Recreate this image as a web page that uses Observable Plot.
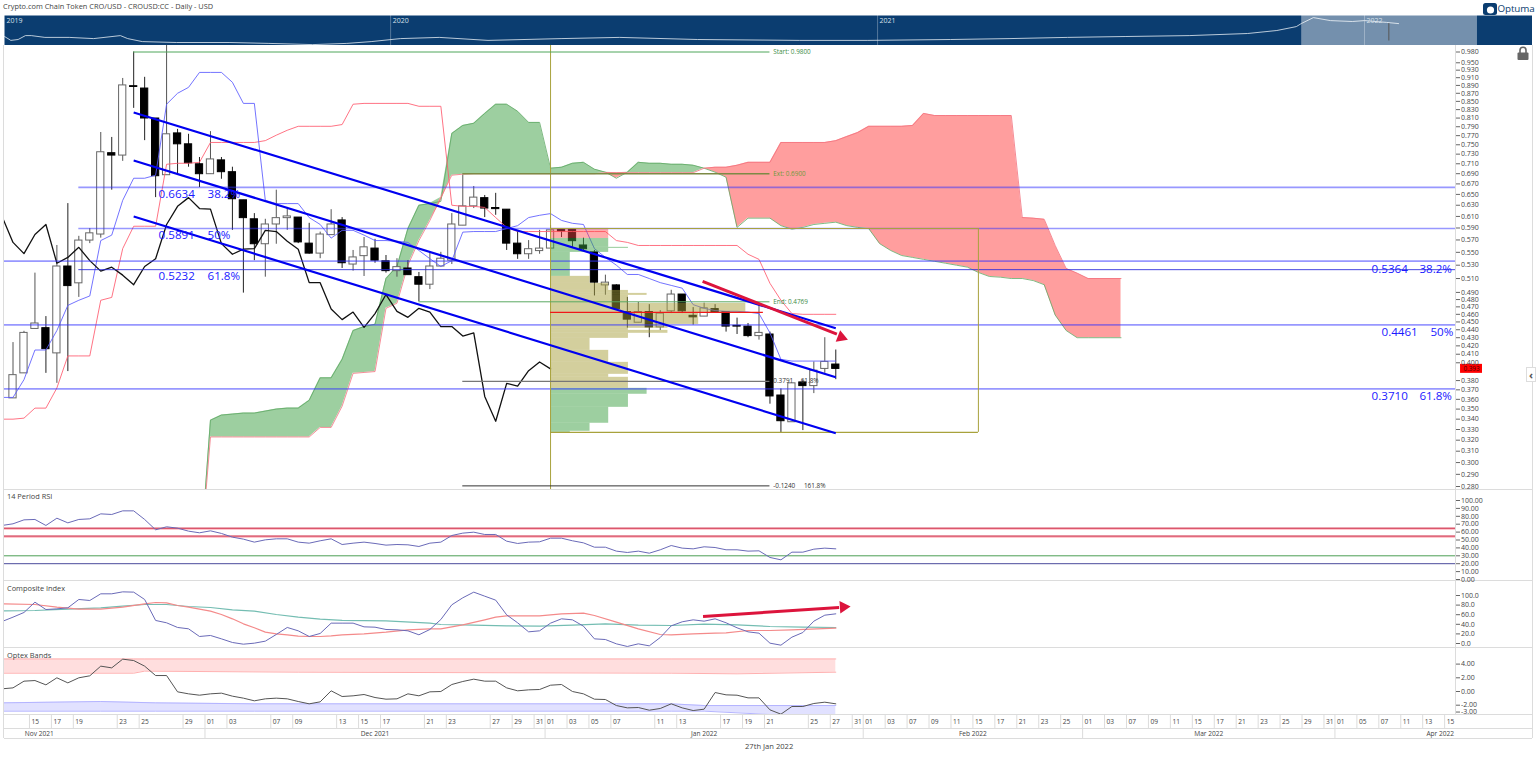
<!DOCTYPE html>
<html>
<head>
<meta charset="utf-8">
<title>Crypto.com Chain Token CRO/USD</title>
<script src="https://cdn.jsdelivr.net/npm/d3@7"></script>
<script src="https://cdn.jsdelivr.net/npm/@observablehq/plot@0.6"></script>
<style>
html,body{margin:0;padding:0;background:#fff;}
#page{position:relative;width:1536px;height:759px;overflow:hidden;font-family:"Open Sans",sans-serif;color:#444;}
#page svg{position:absolute;display:block;background:transparent;}
.t{position:absolute;white-space:nowrap;}
.ln{position:absolute;background:#dcdcdc;}
</style>
</head>
<body>
<div id="page"></div>
<script>
// ---------- daily candles, 13 Nov 2021 to 27 Jan 2022 ----------
const opens=[.361,.388,.441,.442,.411,.528,.503,.569,.579,.732,.727,.888,.882,.809,.687,.775,.751,.709,.689,.717,.693,.639,.605,.563,.596,.607,.608,.564,.548,.578,.603,.531,.544,.556,.536,.521,.525,.512,.501,.528,.537,.594,.628,.643,.625,.622,.564,.547,.552,.556,.588,.588,.561,.550,.500,.500,.463,.449,.463,.443,.464,.487,.458,.457,.467,.463,.445,.444,.432,.434,.364,.337,.378,.374,.393,.398];
const highs=[.424,.438,.518,.457,.561,.633,.576,.589,.777,.766,.908,.980,.911,.809,1.0,.784,.773,.723,.779,.723,.703,.639,.615,.605,.658,.626,.608,.598,.583,.622,.608,.553,.574,.571,.545,.540,.537,.519,.550,.550,.615,.687,.665,.648,.652,.622,.584,.569,.586,.594,.589,.588,.573,.553,.515,.501,.483,.476,.473,.465,.493,.487,.469,.475,.473,.463,.455,.448,.472,.437,.371,.377,.380,.401,.430,.415];
const lows=[.361,.388,.441,.388,.377,.390,.483,.564,.573,.658,.715,.833,.759,.644,.687,.687,.703,.663,.689,.679,.586,.489,.537,.512,.563,.586,.564,.547,.540,.578,.525,.521,.513,.533,.518,.512,.515,.477,.494,.528,.531,.594,.624,.608,.612,.553,.539,.539,.547,.556,.574,.558,.553,.485,.486,.467,.442,.449,.430,.439,.461,.461,.446,.457,.463,.437,.434,.430,.427,.355,.327,.337,.329,.366,.388,.381];
const closes=[.386,.436,.448,.416,.528,.499,.569,.581,.734,.727,.890,.886,.809,.685,.773,.751,.711,.689,.719,.693,.641,.607,.563,.596,.607,.610,.566,.548,.579,.596,.533,.542,.558,.537,.521,.527,.515,.501,.528,.540,.596,.628,.644,.624,.623,.564,.547,.555,.556,.586,.584,.568,.555,.504,.504,.467,.453,.463,.443,.461,.487,.464,.456,.468,.463,.444,.444,.432,.436,.363,.338,.377,.374,.391,.401,.393];

// ---------- Ichimoku ----------
const tenkan=[.362,.362,.381,.415,.415,.439,.472,.479,.485,.569,.578,.639,.681,.681,.687,.843,.870,.885,.924,.924,.924,.898,.845,.845,.639,.633,.633,.633,.608,.596,.573,.586,.586,.578,.569,.569,.568,.566,.553,.540,.528,.537,.583,.584,.584,.584,.589,.594,.608,.612,.615,.603,.598,.596,.556,.542,.530,.516,.516,.510,.504,.500,.496,.473,.468,.465,.464,.464,.463,.461,.436,.404,.402,.402,.402,.402,.402];
const kijun=[.340,.340,.341,.351,.351,.372,.408,.408,.408,.479,.483,.556,.593,.593,.593,.709,.711,.711,.713,.755,.755,.755,.755,.755,.759,.771,.782,.791,.791,.791,.791,.795,.843,.845,.845,.845,.845,.845,.838,.838,.838,.630,.628,.628,.626,.608,.591,.584,.584,.584,.584,.584,.584,.584,.584,.584,.569,.566,.561,.561,.561,.561,.561,.561,.561,.561,.561,.561,.547,.539,.503,.479,.461,.460,.460,.460,.460];
const spanA=[.22,.339,.344,.345,.346,.346,.348,.350,.351,.351,.359,.383,.383,.404,.439,.444,.447,.510,.528,.589,.630,.633,.637,.775,.793,.798,.821,.843,.843,.826,.800,.800,.701,.703,.711,.713,.699,.693,.681,.693,.713,.711,.711,.709,.709,.707,.701,.693,.683,.591,.607,.607,.607,.594,.588,.591,.596,.598,.600,.594,.591,.589,.564,.553,.545,.542,.539,.536,.533,.530,.527,.519,.513,.512,.510,.510,.507,.501,.459,.439,.430,.430,.430,.430,.430];
const spanB=[.22,.323,.323,.323,.323,.323,.323,.323,.323,.323,.323,.332,.332,.353,.388,.389,.390,.468,.475,.530,.569,.603,.644,.687,.689,.690,.690,.690,.690,.690,.690,.690,.690,.690,.690,.690,.690,.692,.692,.692,.692,.692,.692,.692,.692,.692,.701,.703,.703,.707,.713,.713,.713,.755,.755,.755,.755,.755,.759,.768,.777,.791,.791,.791,.791,.793,.821,.816,.816,.816,.816,.816,.816,.816,.816,.608,.607,.605,.561,.525,.518,.510,.510,.510,.510];

// ---------- volume profile ----------
const profileTop=[.5893,.5725,.5580,.5563,.5499,.5132,.5029,.4928,.4886,.4858,.4747,.4626,.4468,.4418,.4392,.4355,.4292,.4146,.4005,.3869,.3836,.3716,.3653,.3518,.3360,.3283];
const profileBottom=[.5725,.5580,.5563,.5499,.5132,.5029,.4928,.4886,.4858,.4747,.4626,.4468,.4418,.4392,.4355,.4292,.4146,.4005,.3869,.3836,.3716,.3653,.3518,.3360,.3283,.3273];
const profileVolume=[5.3,5.3,7.1,5.3,1.8,3.6,5.3,7.1,8.8,7.1,17.8,13.5,10.7,7.1,10.7,7.1,3.6,5.3,7.1,5.3,7.1,8.8,7.1,5.3,3.6,1.8];
const profileSide=["r","g","g","g","g","o","o","o","o","o","o","o","o","o","o","o","o","o","o","o","o","g","g","g","g","g"];

// ---------- retracement and channel levels ----------
const fibWide=[.5364,.4461,.3710];
const fibLeft=[.6634,.5891];
const fibThin=[.5232];
const channelStart=[.8232,.7168,.6100];
const channelEnd=[.4418,.3836,.3264];
const priceTicks=[.98,.95,.93,.91,.89,.87,.85,.83,.81,.79,.77,.75,.73,.71,.69,.67,.65,.63,.61,.59,.57,.55,.53,.51,.49,.48,.47,.46,.45,.44,.43,.42,.41,.40,.38,.37,.36,.35,.34,.33,.32,.31,.30,.29,.28];

// ---------- RSI ----------
const rsi=[68.4,70.5,75.5,76,68.4,77.6,71.7,76,76.8,83.1,82.3,86.9,86.9,76,62.9,66.7,65,61.2,59.1,61.6,58.3,53.6,51.1,47.3,50.2,51.5,51.5,47.3,46,49,51.5,44.3,46,47.3,45.6,43.5,44.3,43.9,41.8,46,47.3,55.7,58.7,59.9,57,57,48.5,45.6,47.3,47.7,52.3,52.3,49,46.4,40.9,40.9,35.9,34.2,35.9,33.3,37.6,43,39.7,38.8,41.4,40.5,37.6,37.6,35.9,36.3,27.9,24.9,34.6,34.6,38.4,39.7,38.8];
const rsiTicks=[100,90,80,70,60,50,40,30,20,10,0];

// ---------- Composite Index ----------
const composite=[45.8,54.9,64.6,86.1,70.8,72.2,74.3,91.7,89.6,103.5,103.5,107.6,107,91.7,48,43.1,33.4,30.6,14.6,16.7,9.7,2.1,-1.4,.7,4.9,18.8,33.4,26.4,14.6,20.9,42.4,42.4,42.4,34.7,34,29.2,28.5,26.4,18.1,29.2,50,80.6,95.2,107,98.6,90.3,59.7,43.1,24.3,26.4,42.4,51.4,49.3,36.1,9.7,8.3,-.7,-6.2,-.7,-4.9,12.5,36.8,45.2,49.3,46.5,51.4,43.1,32.7,24.3,21.5,.7,-3.5,13.2,22.9,46.5,59,61.8];
const fastBar=[-1,2,4,6,8,10,12,13,14,15,16,18,19,20,21,22,23,24,25,26,27,28,29,30,32,34,36,38,39,41,43,44,45,46,48,50,52,53,55,57,59,60,62,64,65,67,69,71,75];
const fastAvg=[82.7,81.3,75.7,71.5,71.5,75.7,82.7,85.4,84.7,79.2,75.7,67.4,60.4,51.4,41,32.7,23.6,20.2,18.1,15.3,14.6,14.6,16,18.1,20.2,23.6,28.5,30.6,30.6,38.9,49.3,54.9,57.7,57.7,57.7,61.8,63.2,58.3,44.5,30.6,18.8,18.1,20.2,21.5,22.2,27.1,27.1,28.5,32];
const slowBar=[-1,2,5,8,10,12,14,16,18,20,22,24,26,28,30,34,38,39,42,45,48,51,54,57,60,63,66,69,72,75];
const slowAvg=[68.1,68.8,71.5,74.3,77.8,81.3,81.3,77.1,75,70.2,67.4,60.4,54.9,50.7,48,47.2,42.4,39.6,38.2,36.8,36.1,38.2,41,38.2,37.5,40.3,38.9,35.4,34,33.3];
const compositeTicks=[100,80,60,40,20,0];

// ---------- Optex Bands ----------
const optex=[.39,.53,1.51,1.6,.97,2,1.26,2,2.29,3.7,3.45,4.72,4.52,3.7,2.33,2.33,-.05,-.34,-.54,-.34,-.24,-.68,-.97,-1.36,-1.07,-.97,-1.07,-1.46,-1.8,-1.51,.1,-.73,-.63,-.44,-.88,-1.12,-1.07,-.34,-.63,-.05,0,1.02,1.46,1.8,1.51,1.51,.53,.1,.24,.29,.92,1.02,0,-.34,-1.12,-1.17,-2.05,-2.39,-2.34,-2.73,-2.48,-1.8,-2.39,-2.78,-2.58,-.15,-.49,-.54,-.93,-.93,-2.68,-3.31,-2.19,-2.19,-1.75,-1.56,-1.8];
const upperBar=[-1,11,12,26,60,66,75];
const upperTop=[4.75,4.75,4.75,4.75,4.75,4.75,4.75];
const upperBase=[2.67,2.67,2.97,2.82,2.67,2.58,2.82];
const lowerBar=[-1,8,13,22,60,63,69,75];
const lowerTop=[-1.66,-1.46,-1.66,-1.8,-1.8,-2.05,-2.05,-2.05];
const lowerBase=[-2.87,-2.87,-2.87,-2.87,-2.87,-2.87,-3.36,-3.36];
const optexTicks=[4,2,0,-2,-3];

// ---------- time axis ----------
const dayBar=[2,4,6,10,12,16,18,20,24,26,30,32,34,38,40,44,46,48,49,51,53,55,59,61,65,67,69,73,75,77,78,80,82,84,86,88,90,92,94,96,98,100,102,104,106,108,110,112,114,116,118,120,121,123,125,127,129,131];
const dayText=["15","17","19","23","25","29","01","03","07","09","13","15","17","21","23","27","29","31","01","03","05","07","11","13","17","19","21","25","27","31","01","03","07","09","11","15","17","21","23","25","01","03","07","09","11","15","17","21","23","25","29","31","01","05","07","11","13","15"];
const monthText=["Nov 2021","Dec 2021","Jan 2022","Feb 2022","Mar 2022","Apr 2022"];
const monthBar=[2.4,33,63,87.5,109,130.1];
const monthEdge=[17.5,48.5,77.5,97.5,120.5];

// ---------- overview strip ----------
const overviewYear=[2019.207,2019.22,2019.235,2019.25,2019.262,2019.29,2019.34,2019.39,2019.445,2019.46,2019.49,2019.56,2019.67,2019.75,2019.84,2019.91,2019.96,2020.02,2020.1,2020.2,2020.35,2020.47,2020.63,2020.84,2020.98,2021.15,2021.27,2021.39,2021.51,2021.64,2021.76,2021.82,2021.86,2021.87,2021.895,2021.93,2021.975,2022.0,2022.045,2022.07];
const overviewValue=[30,17,20,33,33,27,27,23,33,23,13,10,10,7,3,7,13,23,27,17,23,27,20,17,17,20,23,27,30,33,40,50,63,73,93,83,80,83,77,73];
const overviewTicks=[2020,2021,2022];

// ---------- shared frame ----------
const page=document.getElementById("page");
const W=1536, ML=4, MR=81;
const barDomain=[-0.775,131.49];
const INK="#444";
function place(svg,top,left=0){svg.style.top=top+"px";svg.style.left=left+"px";page.appendChild(svg);}
function panel(top,height,yScale,marks){
  const svg=Plot.plot({width:W,height,marginLeft:ML,marginRight:MR,marginTop:0,marginBottom:0,
    x:{domain:barDomain,axis:null},y:yScale,marks,
    style:{fontFamily:"'Open Sans',sans-serif",fontSize:"7px",color:INK,background:"transparent",overflow:"visible"}});
  place(svg,top);
}
function addText(txt,x,y,size,extra=""){
  const d=document.createElement("div");d.className="t";d.textContent=txt;
  d.style.cssText=`left:${x}px;top:${y}px;font-size:${size}px;line-height:1;${extra}`;page.appendChild(d);
}
function addLine(x,y,w,h,color){
  const d=document.createElement("div");d.className="ln";
  d.style.cssText=`left:${x}px;top:${y}px;width:${w}px;height:${h}px;${color?"background:"+color:""}`;page.appendChild(d);
}
const rightAxis=(ticks,fmt)=>Plot.axisY(ticks,{anchor:"right",tickSize:4,tickPadding:1.5,tickFormat:fmt,label:null,stroke:"#666",fill:INK,fontSize:7});

// ---------- frame rules ----------
addLine(3,45,1,693);
addLine(1455,45,1,669);
addLine(1532,45,1,693);
addLine(4,489,1528,1);
addLine(4,580,1528,1);
addLine(4,647,1528,1);
addLine(4,714,1528,1);
addLine(4,728,1528,1);
addLine(4,738,1528,1);

// ---------- header ----------
addText("Crypto.com Chain Token CRO/USD - CROUSD:CC - Daily - USD",3,3,7.4,"color:#444;");
addText("Optuma",1497.5,3.5,9.8,"color:#0b3d70;letter-spacing:-.1px;");

// ---------- overview ----------
const ov=d3.range(overviewYear.length).map(k=>({x:overviewYear[k],v:overviewValue[k]}));
place(Plot.plot({width:1528,height:30,margin:0,
  x:{domain:[2019.207,2022.345],axis:null},y:{domain:[0,100],axis:null},
  style:{fontFamily:"'Open Sans',sans-serif",fontSize:"7px",background:"transparent"},
  marks:[
    Plot.frame({fill:"#0b3d70",stroke:null}),
    Plot.ruleX(overviewTicks,{stroke:"#fff",strokeOpacity:.3}),
    Plot.line(ov,{x:"x",y:"v",stroke:"#e6edf4",strokeWidth:.8}),
    Plot.rectY([0],{x1:2021.871,x2:2022.232,y1:0,y2:100,fill:"#fff",fillOpacity:.43}),
    Plot.ruleX([2022.05],{y1:15,y2:73,stroke:"#555"}),
    Plot.text(["2019","2020","2021","2022"],{x:[2019.207,2020,2021,2022],y:[84,84,84,84],text:d=>d,textAnchor:"start",dx:2,fill:"#d6e0ea",fontSize:7})
  ]}),15,4);

// ---------- main panel ----------
const candles=opens.map((o,i)=>({i,o,h:highs[i],l:lows[i],c:closes[i]}));
const up=candles.filter(d=>d.c>=d.o), down=candles.filter(d=>d.c<d.o);
const seriesFrom=(arr,start)=>arr.map((v,k)=>({i:start+k,v}));
const cloud=spanA.map((a,k)=>({i:17+k,a,b:spanB[k]}));
const profile=profileTop.map((t,k)=>({t,b:profileBottom[k],w:profileVolume[k],s:profileSide[k]}));
const lab=(rows,fill,size)=>Plot.text(rows,{x:"x",y:"y",text:"t",fill,fontSize:size,textAnchor:"start"});
const levelLine=(y,x1,x2,stroke,w,op=1)=>Plot.ruleY([y],{x1,x2,stroke,strokeWidth:w,strokeOpacity:op,clip:true});
const chan=channelStart.map((s,k)=>({s,e:channelEnd[k]}));
const RIGHT=barDomain[1], LEFT=barDomain[0];

panel(45,444,{type:"log",domain:[.28,.98],range:[441,6.5],axis:null},[
  Plot.areaY(cloud,{x:"i",y1:"b",y2:d=>Math.max(d.a,d.b),fill:"rgb(60,160,65)",fillOpacity:.5,clip:true}),
  Plot.areaY(cloud,{x:"i",y1:"b",y2:d=>Math.min(d.a,d.b),fill:"rgb(255,0,0)",fillOpacity:.38,clip:true}),
  Plot.line(cloud,{x:"i",y:"a",stroke:"#5fa865",strokeWidth:.8,clip:true}),
  Plot.line(cloud,{x:"i",y:"b",stroke:"#f2707c",strokeWidth:.8,clip:true}),
  Plot.ruleX(up,{x:"i",y1:"l",y2:"h",stroke:"#555",clip:true}),
  Plot.ruleX(down,{x:"i",y1:"l",y2:"h",stroke:"#222",clip:true}),
  Plot.rect(up,{x1:d=>d.i-.33,x2:d=>d.i+.33,y1:"o",y2:"c",fill:"#fff",stroke:"#666",clip:true}),
  Plot.rect(down,{x1:d=>d.i-.33,x2:d=>d.i+.33,y1:"o",y2:"c",fill:"#000",stroke:"#000",clip:true}),
  Plot.line(seriesFrom(kijun,-1),{x:"i",y:"v",stroke:"rgb(255,90,110)",strokeWidth:1,strokeOpacity:.85,clip:true}),
  Plot.line(seriesFrom(tenkan,-1),{x:"i",y:"v",stroke:"rgb(90,90,255)",strokeWidth:1,strokeOpacity:.85,clip:true}),
  Plot.line(seriesFrom(closes.slice(25),-1),{x:"i",y:"v",stroke:"#111",strokeWidth:1.3,clip:true}),
  Plot.rect(profile.filter(d=>d.s==="o"),{x1:49,x2:d=>49+d.w,y1:"b",y2:"t",fill:"rgb(167,160,60)",fillOpacity:.5}),
  Plot.rect(profile.filter(d=>d.s==="g"),{x1:49,x2:d=>49+d.w,y1:"b",y2:"t",fill:"rgb(60,160,65)",fillOpacity:.5}),
  Plot.rect(profile.filter(d=>d.s==="r"),{x1:49,x2:d=>49+d.w,y1:"b",y2:"t",fill:"rgb(255,70,70)",fillOpacity:.45}),
  Plot.ruleY(fibWide,{x1:LEFT,x2:RIGHT,stroke:"rgb(50,50,255)",strokeWidth:1.7,strokeOpacity:.5}),
  Plot.ruleY(fibLeft,{x1:6,x2:RIGHT,stroke:"rgb(50,50,255)",strokeWidth:1.7,strokeOpacity:.5}),
  Plot.ruleY(fibThin,{x1:6,x2:RIGHT,stroke:"rgb(40,40,220)",strokeWidth:1,strokeOpacity:.85}),
  Plot.ruleX([49],{y1:.27,y2:1.01,stroke:"#a8a23c",strokeWidth:1,clip:true}),
  levelLine(.5891,49,88,"#a8a23c",1),
  levelLine(.3273,49,88,"#a8a23c",1.3),
  Plot.ruleX([88],{y1:.3273,y2:.5891,stroke:"#a8a23c",strokeWidth:1}),
  levelLine(.98,11,69,"#4fa65a",1),
  levelLine(.69,41,69,"#7d8a45",1.6),
  levelLine(.4769,37,69,"#5aa862",1),
  levelLine(.3791,41,69,"#777",1.4),
  levelLine(.2805,41,69,"#333",1),
  levelLine(.4626,49,68.4,"#f01818",1.2),
  Plot.link(chan,{x1:11,x2:75,y1:"s",y2:"e",stroke:"#0000f0",strokeWidth:2.2}),
  Plot.link([0],{x1:62.86,y1:.5057,x2:75.1,y2:.4345,stroke:"#dc143c",strokeWidth:3}),
  Plot.dot([0],{x:75.5,y:.4305,symbol:"triangle",r:4.6,fill:"#dc143c",rotate:111}),
  lab([{x:13.27,y:.650,t:"0.6634"},{x:17.73,y:.650,t:"38.2%"},{x:13.27,y:.5772,t:"0.5891"},{x:17.73,y:.5772,t:"50%"},{x:13.27,y:.5131,t:"0.5232"},{x:17.73,y:.5131,t:"61.8%"},
        {x:123.84,y:.5236,t:"0.5364"},{x:128.2,y:.5236,t:"38.2%"},{x:124.75,y:.4367,t:"0.4461"},{x:129.2,y:.4367,t:"50%"},{x:123.84,y:.3632,t:"0.3710"},{x:128.2,y:.3632,t:"61.8%"}],"#1a1aff",11.6),
  lab([{x:69.3,y:.98,t:"Start: 0.9800"},{x:69.3,y:.4769,t:"End: 0.4769"}],"#3d8c46",6.4),
  lab([{x:69.3,y:.69,t:"Ext: 0.6900"}],"#6f9a3c",6.4),
  lab([{x:69.3,y:.3791,t:"0.3791"},{x:71.8,y:.3791,t:"61.8%"},{x:69.3,y:.2805,t:"-0.1240"},{x:72.1,y:.2805,t:"161.8%"}],"#333",6.4),
  Plot.rect([0],{x1:131.95,x2:133.95,y1:.388,y2:.3982,fill:"#f00"}),
  Plot.text([".393"],{x:[132.95],y:[.3925],text:()=>"0.393",fill:"#400",fontSize:6.4}),
  rightAxis(priceTicks,d=>d.toFixed(3))
]);

// ---------- RSI ----------
const rsiSeries=seriesFrom(rsi,-1);
panel(490,90,{domain:[0,100],range:[89,10],axis:null},[
  Plot.ruleY([65,55],{stroke:"#ffb3bd",strokeWidth:1.2,dy:1}),
  Plot.ruleY([65,55],{stroke:"#c8102e",strokeWidth:1}),
  Plot.ruleY([30],{stroke:"#4c9e55",strokeWidth:1}),
  Plot.ruleY([20],{stroke:"#4a4a9c",strokeWidth:1}),
  Plot.line(rsiSeries,{x:"i",y:"v",stroke:"#6a6ab8",strokeWidth:1,clip:true}),
  rightAxis(rsiTicks,d=>d.toFixed(2))
]);
addText("14 Period RSI",7,493,7.4);

// ---------- Composite ----------
const fast=fastBar.map((i,k)=>({i,v:fastAvg[k]})), slow=slowBar.map((i,k)=>({i,v:slowAvg[k]}));
panel(581,66,{domain:[0,100],range:[62,14],axis:null},[
  Plot.line(slow,{x:"i",y:"v",stroke:"#74bdb2",strokeWidth:1.2,clip:true}),
  Plot.line(fast,{x:"i",y:"v",stroke:"#f48a8a",strokeWidth:1.2,clip:true}),
  Plot.line(seriesFrom(composite,-1),{x:"i",y:"v",stroke:"#6a6ab8",strokeWidth:1,clip:true}),
  Plot.link([0],{x1:62.9,y1:56.2,x2:75.3,y2:75,stroke:"#dc143c",strokeWidth:3}),
  Plot.dot([0],{x:75.7,y:76,symbol:"triangle",r:4.6,fill:"#dc143c",rotate:86}),
  rightAxis(compositeTicks,d=>d.toFixed(1))
]);
addText("Composite Index",7,585,7.4);

// ---------- Optex ----------
const upper=upperBar.map((i,k)=>({i,t:upperTop[k],b:upperBase[k]}));
const lower=lowerBar.map((i,k)=>({i,t:lowerTop[k],b:lowerBase[k]}));
panel(648,66,{domain:[-3,4],range:[63.55,15.6],axis:null},[
  Plot.areaY(upper,{x:"i",y1:"b",y2:"t",fill:"rgb(255,60,60)",fillOpacity:.17,clip:true}),
  Plot.line(upper,{x:"i",y:"t",stroke:"#ffb0b0",strokeWidth:1,clip:true}),
  Plot.line(upper,{x:"i",y:"b",stroke:"#ffb0b0",strokeWidth:1,clip:true}),
  Plot.areaY(lower,{x:"i",y1:"b",y2:"t",fill:"rgb(80,80,255)",fillOpacity:.17,clip:true}),
  Plot.line(lower,{x:"i",y:"t",stroke:"#b4b4ff",strokeWidth:1,clip:true}),
  Plot.line(lower,{x:"i",y:"b",stroke:"#b4b4ff",strokeWidth:1,clip:true}),
  Plot.line(seriesFrom(optex,-1),{x:"i",y:"v",stroke:"#555",strokeWidth:1,clip:true}),
  rightAxis(optexTicks,d=>d.toFixed(2))
]);
addText("Optex Bands",7,652,7.4);

// ---------- time axis ----------
const days=dayBar.map((b,k)=>({x:b-.5,t:dayText[k]}));
panel(715,13,{domain:[0,1],axis:null},[
  Plot.ruleX(days,{x:"x",stroke:"#dcdcdc"}),
  Plot.text(days,{x:"x",text:"t",frameAnchor:"left",dx:2,textAnchor:"start",fill:INK,fontSize:6.6})
]);
const months=monthText.map((t,k)=>({x:monthBar[k],t}));
panel(729,9,{domain:[0,1],axis:null},[
  Plot.ruleX(monthEdge,{x:d=>d-0,stroke:"#dcdcdc"}),
  Plot.text(months,{x:"x",text:"t",fill:INK,fontSize:6.6})
]);
addText("27th Jan 2022",745,743,7.6);

// ---------- logo, lock and side tab ----------
const deco=document.createElement("div");
deco.innerHTML=`
<svg style="left:1483px;top:3px" width="14" height="12" viewBox="0 0 14 12"><rect width="14" height="12" rx="2.5" fill="#0b3d70"/><circle cx="7.5" cy="7" r="3.6" fill="#fff"/></svg>
<svg style="left:1516px;top:46px" width="14" height="15" viewBox="0 0 14 15"><rect x="1.5" y="6.5" width="11" height="7.5" rx="1" fill="#666"/><path d="M4 7V4.3a3 3 0 0 1 6 0V7" fill="none" stroke="#666" stroke-width="1.6"/></svg>`;
page.appendChild(deco);
addText("‹",1526,367,11,"color:#555;border:1px solid #ddd;padding:1px 2px;background:#fff;font-weight:700;");
</script>
</body>
</html>
